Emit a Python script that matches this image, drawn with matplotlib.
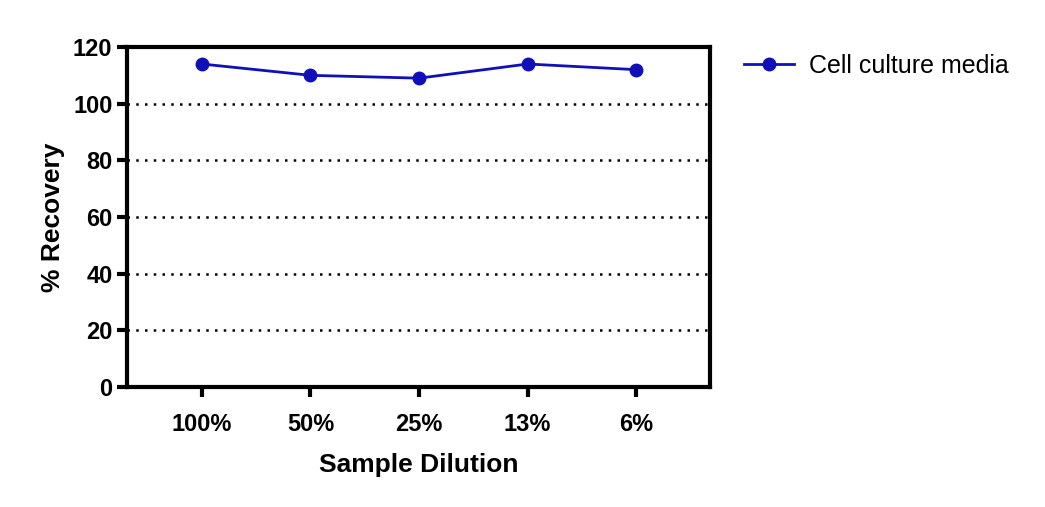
import matplotlib
matplotlib.use("Agg")
import matplotlib.pyplot as plt

categories = ["100%", "50%", "25%", "13%", "6%"]
recovery = [114, 110, 109, 114, 112]
series_name = "Cell culture media"

plt.rcParams['font.family'] = ['Liberation Sans', 'DejaVu Sans']
fig = plt.figure(figsize=(10.45, 5.07), dpi=100)
ax = fig.add_axes([0.1215, 0.2367, 0.558, 0.6706])
x = list(range(len(categories)))
ax.plot(x, recovery, color="#1010b8", marker="o", markersize=9, linewidth=2, label=series_name)
ax.set_xlim(-0.69, 4.68)
ax.set_ylim(0, 120)
ax.set_yticks(range(0, 121, 20))
for v in range(20, 101, 20):
    ax.axhline(v, color="black", linestyle=(0, (1, 2.5)), linewidth=1.8, zorder=0)
ax.set_xticks(x)
ax.set_xticklabels(categories)
for s in ax.spines.values():
    s.set_linewidth(3)
ax.tick_params(axis='both', width=3, length=7, labelsize=17, direction='out')
for lab in ax.get_xticklabels() + ax.get_yticklabels():
    lab.set_fontweight('bold')
ax.tick_params(axis='x', pad=12)
ax.set_xlabel("Sample Dilution", fontsize=19, fontweight='bold', labelpad=12)
ax.set_ylabel("% Recovery", fontsize=19, fontweight='bold', labelpad=6)
ax.legend(loc='upper left', bbox_to_anchor=(1.02, 1.045), frameon=False, fontsize=18,
          handlelength=2.0, handletextpad=0.6)
fig.savefig("out.png", dpi=100)
